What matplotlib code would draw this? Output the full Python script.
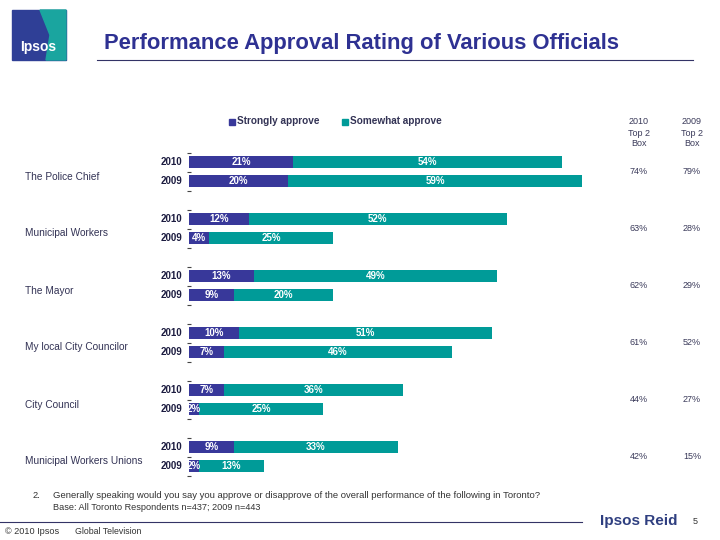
import matplotlib
matplotlib.use("Agg")
import matplotlib.pyplot as plt
from matplotlib.patches import Rectangle, Polygon
from matplotlib.lines import Line2D

plt.rcParams['font.family'] = ['Liberation Sans', 'DejaVu Sans']

categories = ["The Police Chief", "Municipal Workers", "The Mayor",
              "My local City Councilor", "City Council", "Municipal Workers Unions"]
years = ["2010", "2009"]
strong_2010 = [21, 12, 13, 10, 7, 9]
somewhat_2010 = [54, 52, 49, 51, 36, 33]
strong_2009 = [20, 4, 9, 7, 2, 2]
somewhat_2009 = [59, 25, 20, 46, 25, 13]
top2_2010 = ["74%", "63%", "62%", "61%", "44%", "42%"]
top2_2009 = ["79%", "28%", "29%", "52%", "27%", "15%"]

NAVY = "#38389a"
TEAL = "#009b98"
TITLE = "#2e3192"
W, H = 720, 540

fig = plt.figure(figsize=(7.2, 5.4), dpi=100)

def fx(x):
    return x / W

def fy(y):
    return 1 - y / H

# main bar axes (pixel geometry)
left_px, right_px, top_px, bot_px = 189, 600, 145, 480
px_per_pct = 4.97
unit = 19.0
y0 = 162.0
ax = fig.add_axes([fx(left_px), fy(bot_px), (right_px - left_px) / W, (bot_px - top_px) / H])
ax.set_xlim(0, (right_px - left_px) / px_per_pct)
ax.set_ylim((bot_px - y0) / unit, (top_px - y0) / unit)
for s in ax.spines.values():
    s.set_visible(False)
ax.set_xticks([])

bh = 0.66
tick_pos = []
for i, cat in enumerate(categories):
    ys = [3 * i, 3 * i + 1]
    data = [(strong_2010[i], somewhat_2010[i]), (strong_2009[i], somewhat_2009[i])]
    for y, yr, (s, w) in zip(ys, years, data):
        ax.barh(y, s, height=bh, color=NAVY, left=0)
        ax.barh(y, w, height=bh, color=TEAL, left=s)
        ax.text(s / 2, y, f"{s}%", color="white", fontsize=7, fontweight="bold",
                ha="center", va="center")
        ax.text(s + w / 2, y, f"{w}%", color="white", fontsize=7, fontweight="bold",
                ha="center", va="center")
        ax.text(-1.4, y, yr, color="#1c1c40", fontsize=7, fontweight="bold",
                ha="right", va="center")
    tick_pos += [3 * i - 0.5, 3 * i + 0.5, 3 * i + 1.5]
    gy = y0 + unit * (3 * i + 0.5)
    fig.text(fx(25), fy(gy + 5), cat, fontsize=7.3, color="#333355", ha="left", va="center")
    fig.text(fx(639), fy(gy), top2_2010[i], fontsize=6.5, color="#3a3a5a", ha="center", va="center")
    fig.text(fx(692), fy(gy), top2_2009[i], fontsize=6.5, color="#3a3a5a", ha="center", va="center")

ax.set_yticks(tick_pos)
ax.set_yticklabels([])
ax.tick_params(axis="y", length=3, width=0.8, direction="inout", color="#444444")

# legend
fig.patches.append(Rectangle((fx(229), fy(125)), 6 / W, 6 / H, color=NAVY, transform=fig.transFigure))
fig.text(fx(237), fy(121), "Strongly approve", fontsize=7.2, color="#333355", va="center", fontweight="bold")
fig.patches.append(Rectangle((fx(342), fy(125)), 6 / W, 6 / H, color=TEAL, transform=fig.transFigure))
fig.text(fx(350), fy(121), "Somewhat approve", fontsize=7.2, color="#333355", va="center", fontweight="bold")

# right column headers
for x, yr in [(639, "2010"), (692, "2009")]:
    fig.text(fx(x), fy(121), yr, fontsize=6.5, color="#3a3a5a", ha="center", va="center")
    fig.text(fx(x), fy(134), "Top 2", fontsize=6.5, color="#3a3a5a", ha="center", va="center")
    fig.text(fx(x), fy(144), "Box", fontsize=6.5, color="#3a3a5a", ha="center", va="center")

# title
fig.text(fx(104), fy(44), "Performance Approval Rating of Various Officials",
         fontsize=15.8, color=TITLE, ha="left", va="center", fontweight="bold")
fig.lines.append(Line2D([fx(97), fx(693)], [fy(60), fy(60)], color="#333366", lw=0.8,
                        transform=fig.transFigure))

# logo
fig.patches.append(Rectangle((fx(12), fy(60)), 54 / W, 50 / H, color="#2f3f96", transform=fig.transFigure))
fig.patches.append(Polygon([(fx(40), fy(10)), (fx(66), fy(10)), (fx(66), fy(60)),
                            (fx(46), fy(60)), (fx(50), fy(35))],
                           closed=True, color="#1aa59f", transform=fig.transFigure))
fig.text(fx(38), fy(47), "Ipsos", fontsize=10, color="white", fontweight="bold", ha="center", va="center")

# footer
fig.text(fx(33), fy(495), "2.", fontsize=6.7, color="#333333", va="center")
fig.text(fx(53), fy(495), "Generally speaking would you say you approve or disapprove of the overall performance of the following in Toronto?",
         fontsize=6.8, color="#333333", va="center")
fig.text(fx(53), fy(507), "Base: All Toronto Respondents n=437; 2009 n=443",
         fontsize=6.6, color="#333333", va="center")
fig.lines.append(Line2D([fx(0), fx(582)], [fy(522), fy(522)], color="#333366", lw=0.8,
                        transform=fig.transFigure))
fig.text(fx(5), fy(531), "© 2010 Ipsos", fontsize=6.6, color="#333333", va="center")
fig.text(fx(75), fy(531), "Global Television", fontsize=6.3, color="#333333", va="center")
fig.text(fx(600), fy(521), "Ipsos Reid", fontsize=11, color="#2f3f80", fontweight="bold", va="center")
fig.text(fx(693), fy(521), "5", fontsize=6.5, color="#333333", va="center")

fig.savefig("out.png", dpi=100)
